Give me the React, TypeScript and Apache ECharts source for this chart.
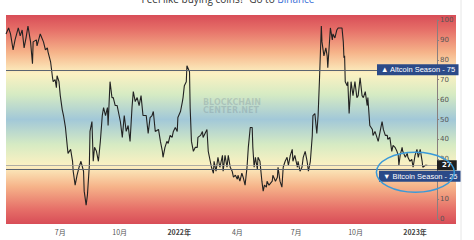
import React, { useEffect, useRef } from "react";
import * as echarts from "echarts";

const dates: string[] = [
  "2021-04-08","2021-04-12","2021-04-15","2021-04-19","2021-04-22","2021-04-27","2021-04-30","2021-05-03","2021-05-06","2021-05-09",
  "2021-05-12","2021-05-16","2021-05-19","2021-05-20","2021-05-25","2021-05-26","2021-05-31","2021-06-05","2021-06-08","2021-06-11",
  "2021-06-12","2021-06-16","2021-06-19","2021-06-20","2021-06-23","2021-06-25","2021-06-26","2021-06-29","2021-07-01","2021-07-04",
  "2021-07-06","2021-07-09","2021-07-12","2021-07-13","2021-07-17","2021-07-20","2021-07-21","2021-07-24","2021-07-27","2021-07-30",
  "2021-08-02","2021-08-06","2021-08-07","2021-08-10","2021-08-12","2021-08-15","2021-08-16","2021-08-19","2021-08-21","2021-08-23",
  "2021-08-26","2021-08-29","2021-09-01","2021-09-04","2021-09-06","2021-09-09","2021-09-12","2021-09-13","2021-09-16","2021-09-19",
  "2021-09-21","2021-09-24","2021-09-27","2021-10-02","2021-10-05","2021-10-08","2021-10-11","2021-10-14","2021-10-17","2021-10-20",
  "2021-10-22","2021-10-25","2021-10-28","2021-10-31","2021-11-03","2021-11-06","2021-11-11","2021-11-14","2021-11-17","2021-11-20",
  "2021-11-22","2021-11-25","2021-11-30","2021-12-03","2021-12-06","2021-12-07","2021-12-10","2021-12-13","2021-12-15","2021-12-18",
  "2021-12-21","2021-12-23","2021-12-26","2021-12-29","2021-12-30","2022-01-03","2022-01-06","2022-01-07","2022-01-09","2022-01-12",
  "2022-01-13","2022-01-17","2022-01-18","2022-01-20","2022-01-23","2022-01-26","2022-01-29","2022-01-30","2022-02-03","2022-02-06",
  "2022-02-07","2022-02-10","2022-02-13","2022-02-15","2022-02-20","2022-02-23","2022-02-24","2022-02-27","2022-03-02","2022-03-05",
  "2022-03-09","2022-03-10","2022-03-13","2022-03-16","2022-03-18","2022-03-21","2022-03-24","2022-03-26","2022-03-29","2022-04-01",
  "2022-04-02","2022-04-05","2022-04-08","2022-04-10","2022-04-13","2022-04-16","2022-04-18","2022-04-21","2022-04-24","2022-04-25",
  "2022-04-27","2022-04-29","2022-05-02","2022-05-03","2022-05-06","2022-05-09","2022-05-11","2022-05-13","2022-05-16","2022-05-17",
  "2022-05-20","2022-05-25","2022-05-26","2022-05-30","2022-06-02","2022-06-03","2022-06-06","2022-06-09","2022-06-11","2022-06-14",
  "2022-06-17","2022-06-19","2022-06-22","2022-06-25","2022-06-26","2022-06-29","2022-07-03","2022-07-04","2022-07-07","2022-07-10",
  "2022-07-12","2022-07-15","2022-07-18","2022-07-20","2022-07-23","2022-07-26","2022-07-27","2022-07-30","2022-08-02","2022-08-04",
  "2022-08-06","2022-08-09","2022-08-10","2022-08-13","2022-08-16","2022-08-18","2022-08-19","2022-08-23","2022-08-26","2022-08-27",
  "2022-08-30","2022-09-02","2022-09-04","2022-09-07","2022-09-10","2022-09-12","2022-09-13","2022-09-14","2022-09-15","2022-09-18",
  "2022-09-19","2022-09-21","2022-09-24","2022-09-27","2022-09-30","2022-10-03","2022-10-05","2022-10-08","2022-10-11","2022-10-13",
  "2022-10-16","2022-10-19","2022-10-20","2022-10-23","2022-10-27","2022-10-28","2022-10-31","2022-11-03","2022-11-05","2022-11-08",
  "2022-11-11","2022-11-13","2022-11-16","2022-11-19","2022-11-20","2022-11-23","2022-11-26","2022-11-28","2022-12-01","2022-12-04",
  "2022-12-06","2022-12-07","2022-12-09","2022-12-12","2022-12-13","2022-12-17","2022-12-20","2022-12-21","2022-12-24","2022-12-27",
  "2022-12-29","2023-01-01","2023-01-04","2023-01-06","2023-01-09","2023-01-12","2023-01-13","2023-01-17","2023-01-20"
];

const altcoinIndex: number[] = [
  93,96,93,85,90,96,92,95,86,91,
  97,89,78,89,90,87,93,89,85,86,
  84,79,71,69,70,66,72,69,62,55,
  52,46,36,33,35,29,24,17,22,26,
  29,24,14,7,12,27,44,49,29,36,
  34,29,39,52,56,52,56,47,69,61,
  61,57,57,49,41,52,44,47,39,56,
  64,59,61,57,62,52,52,43,51,52,
  54,44,45,39,34,31,36,39,38,42,
  41,44,46,44,51,54,59,61,67,69,
  77,74,56,39,34,36,36,41,42,44,
  41,43,45,34,26,23,29,24,31,26,
  32,24,32,26,32,26,24,21,22,20,
  22,19,23,21,17,26,36,46,46,36,
  26,31,25,31,29,19,14,17,16,19,
  17,19,22,19,21,26,19,16,26,29,
  31,27,32,35,29,32,26,29,24,26,
  31,34,29,24,29,42,52,53,43,52,
  69,97,89,82,86,82,76,96,90,93,
  91,95,96,96,96,89,81,82,69,67,
  69,53,69,62,69,61,62,71,62,61,
  64,57,61,47,45,42,44,41,39,44,
  49,45,42,42,40,41,34,37,36,34,
  32,27,32,36,34,31,33,31,29,30,
  26,32,35,31,35,29,26,27,27
];

const yTicks = { min: 0, max: 100, interval: 10 };
const altcoinSeason = 75;
const bitcoinSeason = 25;
const currentValue = 27;
const axisStart = "2021-04-08";
const axisEnd = "2023-02-04";

export default function App() {
  const ref = useRef<HTMLDivElement>(null);
  useEffect(() => {
    document.body.style.margin = "0";
    if (!ref.current) return;
    const chart = echarts.init(ref.current, null, { renderer: "svg" });
    const data = dates.map((d, i) => [d, altcoinIndex[i]]);
    const bg = new echarts.graphic.LinearGradient(0, 0, 0, 1, [
      { offset: 0, color: "#d84d57" },
      { offset: 0.07, color: "#e66f68" },
      { offset: 0.18, color: "#f6b48a" },
      { offset: 0.28, color: "#fcf1c2" },
      { offset: 0.38, color: "#d6ebc3" },
      { offset: 0.5, color: "#a2c8d8" },
      { offset: 0.62, color: "#d6ebc3" },
      { offset: 0.72, color: "#fcf1c2" },
      { offset: 0.82, color: "#f6b48a" },
      { offset: 0.93, color: "#e66f68" },
      { offset: 1, color: "#d84d57" },
    ]);
    const boxLabel = {
      show: true,
      position: "end",
      distance: 0,
      backgroundColor: "#2b4a88",
      color: "#fff",
      fontSize: 7.5,
      padding: [2, 3, 1, 4],
      fontFamily: "Liberation Sans",
    };
    chart.setOption({
      animation: false,
      grid: { left: 6, right: 37, top: 20, bottom: 21, containLabel: false },
      graphic: {
        elements: [
          {
            type: "rect",
            id: "bg",
            z: -10,
            silent: true,
            shape: { x: 6, y: 15, width: 450, height: 209 },
            style: { fill: bg },
          },
          {
            type: "line",
            id: "border",
            z: -10,
            shape: { x1: 461, y1: 0, x2: 461, y2: 240 },
            style: { stroke: "#e6e6e6", lineWidth: 1 },
          },
          {
            type: "text",
            id: "top",
            x: 228,
            y: 4,
            style: {
              text: "{a|Feel like buying coins?  Go to }{b|Binance}",
              align: "center",
              verticalAlign: "bottom",
              rich: {
                a: { fontSize: 10, fill: "#333", fontFamily: "Open Sans" },
                b: { fontSize: 10, fill: "#3b6fd6", fontFamily: "Open Sans" },
              },
            },
          },
          {
            type: "text",
            id: "wm",
            x: 203,
            y: 99,
            z: 5,
            style: {
              text: "BLOCKCHAIN\nCENTER.NET",
              fontSize: 8,
              fontWeight: "bold",
              lineHeight: 7.5,
              fill: "rgba(110,125,140,0.28)",
              fontFamily: "DejaVu Sans",
            },
          },
        ],
      },
      xAxis: {
        type: "time",
        min: axisStart,
        max: axisEnd,
        splitNumber: 7,
        axisLine: { show: false },
        axisTick: { show: false },
        splitLine: { show: false },
        axisLabel: {
          fontSize: 7,
          color: "#555",
          margin: 9,
          fontFamily: "Noto Sans CJK SC",
          formatter: { year: "{yr|{yyyy}年}", month: "{M}月", day: "", hour: "", minute: "", second: "", millisecond: "" },
          rich: { yr: { fontWeight: "bold", fontSize: 7, color: "#444", fontFamily: "Noto Sans CJK SC" } },
        },
      },
      yAxis: {
        type: "value",
        position: "right",
        min: yTicks.min,
        max: yTicks.max,
        interval: yTicks.interval,
        axisLine: { show: true, lineStyle: { color: "#8a7f7f", width: 1 } },
        axisTick: { show: true, length: 2, lineStyle: { color: "#8a7f7f" } },
        splitLine: { show: false },
        axisLabel: { fontSize: 7, color: "#555", margin: 3, fontFamily: "DejaVu Sans" },
      },
      series: [
        {
          type: "line",
          data,
          showSymbol: false,
          symbol: "none",
          lineStyle: { color: "#222", width: 1.1 },
          z: 3,
          markLine: {
            silent: true,
            symbol: "none",
            animation: false,
            data: [
              {
                yAxis: currentValue,
                lineStyle: { color: "#9a9a9a", width: 0.8, type: "solid" },
                label: {
                  show: true,
                  position: "end",
                  distance: 0,
                  formatter: String(currentValue),
                  backgroundColor: "#1f1f1f",
                  color: "#fff",
                  fontSize: 7,
                  fontWeight: "bold",
                  padding: [2, 5, 1, 5],
                  fontFamily: "DejaVu Sans",
                },
              },
              {
                yAxis: altcoinSeason,
                lineStyle: { color: "#5b6470", width: 1.2, type: "solid" },
                label: { ...boxLabel, offset: [-60, 0], formatter: "▲ Altcoin Season - " + altcoinSeason },
              },
              {
                yAxis: bitcoinSeason,
                lineStyle: { color: "#5b6470", width: 1.2, type: "solid" },
                label: { ...boxLabel, offset: [-58, 7], formatter: "▼ Bitcoin Season - " + bitcoinSeason },
              },
            ],
          },
        },
      ],
    });
    const c = chart.convertToPixel({ gridIndex: 0 }, [+new Date("2022-12-31"), 23.5]) as number[];
    if (c && isFinite(c[0])) {
      chart.setOption({
        graphic: {
          elements: [
            {
              type: "ellipse",
              id: "ring",
              z: 20,
              silent: true,
              shape: { cx: c[0] + 1, cy: c[1], rx: 39, ry: 20 },
              style: { fill: "none", stroke: "#3a9ad9", lineWidth: 1.5 },
            },
          ],
        },
      });
    }
    return () => chart.dispose();
  }, []);
  return <div ref={ref} style={{ width: 474, height: 240 }} />;
}
